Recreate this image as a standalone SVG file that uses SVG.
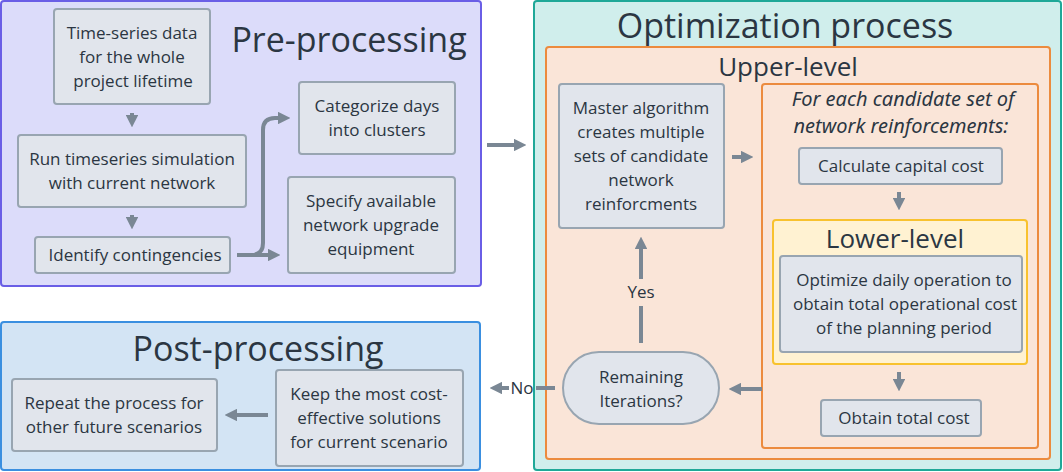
<svg xmlns="http://www.w3.org/2000/svg" width="1063" height="472" viewBox="0 0 1063 472">
<defs>
<marker id="ah" viewBox="0 0 10 10" refX="5" refY="5" markerWidth="3.2" markerHeight="3.2" orient="auto-start-reverse" markerUnits="strokeWidth">
<path d="M0,0 L10,5 L0,10 z" fill="#7a8794"/>
</marker>
<style>
text{font-family:"Open Sans","Noto Sans",sans-serif;fill:#2b3642;text-anchor:middle}
.t{font-size:17px}
.it{font-family:"Noto Sans","Open Sans",sans-serif;font-style:italic;font-size:20px}
.big{font-size:34px}
.mid{font-size:26px}
.n{fill:#e1e5ec;stroke:#98a5b1;stroke-width:2}
.c{fill:none;stroke:#7a8794;stroke-width:4;marker-end:url(#ah)}
.l{fill:none;stroke:#7a8794;stroke-width:4}
</style>
</defs>
<rect width="1063" height="472" fill="#ffffff"/>
<g id="pre">
<rect x="1" y="1" width="480" height="285" rx="3" fill="#dcdcfa" stroke="#6a5ee6" stroke-width="2"/>
<text class="big" x="349" y="52">Pre-processing</text>
</g>
<g id="opt">
<rect x="534" y="1" width="527" height="469" rx="3" fill="#d0eeec" stroke="#1fa898" stroke-width="2"/>
<text class="big" x="785" y="38">Optimization process</text>
</g>
<g id="upper">
<rect x="546" y="47" width="504" height="412" rx="3" fill="#fae5d8" stroke="#ec8b3e" stroke-width="2"/>
<text class="mid" x="788" y="76">Upper-level</text>
</g>
<g id="post">
<rect x="1" y="322" width="479" height="148" rx="3" fill="#d3e4f4" stroke="#3a8fe0" stroke-width="2"/>
<text class="big" x="258" y="361">Post-processing</text>
</g>
<g id="n1"><rect class="n" x="54" y="9" width="156" height="95" rx="3"/>
<text class="t"><tspan x="132" y="39">Time-series data</tspan><tspan x="132" y="63">for the whole</tspan><tspan x="133" y="87">project lifetime</tspan></text></g>
<g id="n2"><rect class="n" x="18" y="135" width="228" height="72" rx="3"/>
<text class="t"><tspan x="132" y="165">Run timeseries simulation</tspan><tspan x="132" y="189">with current network</tspan></text></g>
<g id="n3"><rect class="n" x="35" y="237" width="195" height="36" rx="3"/>
<text class="t" x="135" y="261">Identify contingencies</text></g>
<g id="n4"><rect class="n" x="299" y="82" width="156" height="72" rx="3"/>
<text class="t"><tspan x="377" y="112">Categorize days</tspan><tspan x="377" y="136">into clusters</tspan></text></g>
<g id="n5"><rect class="n" x="288" y="177" width="167" height="96" rx="3"/>
<text class="t"><tspan x="371" y="207">Specify available</tspan><tspan x="371" y="231">network upgrade</tspan><tspan x="371" y="255">equipment</tspan></text></g>
<g id="n6"><rect class="n" x="559" y="84" width="165" height="144" rx="3"/>
<text class="t"><tspan x="641" y="114">Master algorithm</tspan><tspan x="641" y="138">creates multiple</tspan><tspan x="641" y="162">sets of candidate</tspan><tspan x="641" y="186">network</tspan><tspan x="641" y="210">reinforcments</tspan></text></g>
<g id="inner">
<rect x="762" y="84" width="276" height="364" rx="3" fill="#fae5d8" stroke="#ec8b3e" stroke-width="2"/>
<text class="it"><tspan x="903" y="106">For each candidate set of</tspan><tspan x="901" y="133">network reinforcements:</tspan></text>
</g>
<g id="n7"><rect class="n" x="799" y="148" width="203" height="36" rx="3"/>
<text class="t" x="901" y="172">Calculate capital cost</text></g>
<g id="lower">
<rect x="773" y="220" width="254" height="144" rx="3" fill="#fff2d2" stroke="#f8c22e" stroke-width="2"/>
<text class="mid" x="895" y="248">Lower-level</text>
</g>
<g id="n8"><rect class="n" x="780" y="256" width="242" height="96" rx="3"/>
<text class="t"><tspan x="904" y="286">Optimize daily operation to</tspan><tspan x="905" y="310">obtain total operational cost</tspan><tspan x="904" y="334">of the planning period</tspan></text></g>
<g id="n9"><rect class="n" x="821" y="400" width="160" height="36" rx="3"/>
<text class="t" x="904" y="424">Obtain total cost</text></g>
<g id="n10"><rect class="n" x="563" y="352" width="156" height="72" rx="36"/>
<text class="t"><tspan x="641" y="383">Remaining</tspan><tspan x="641" y="407">Iterations?</tspan></text></g>
<g id="n11"><rect class="n" x="276" y="370" width="187" height="96" rx="3"/>
<text class="t"><tspan x="369" y="400">Keep the most cost-</tspan><tspan x="369" y="424">effective solutions</tspan><tspan x="369" y="448">for current scenario</tspan></text></g>
<g id="n12"><rect class="n" x="12" y="379" width="205" height="72" rx="3"/>
<text class="t"><tspan x="114" y="409">Repeat the process for</tspan><tspan x="114" y="433">other future scenarios</tspan></text></g>
<g id="connectors">
<path class="c" d="M132,113 V121"/>
<path class="c" d="M132,215 V223"/>
<path class="c" d="M237,255 H251 Q263,255 263,243 V130 Q263,118 275,118 H284"/>
<path class="c" d="M237,255 H274"/>
<path class="c" d="M487,145 H520"/>
<path class="c" d="M732,157 H747"/>
<path class="c" d="M899,192 V204"/>
<path class="c" d="M899,372 V385"/>
<path class="c" d="M762,389 H735"/>
<path class="l" d="M641,343 V306"/>
<path class="c" d="M641,279 V243"/>
<text class="t" x="641" y="298">Yes</text>
<path class="l" d="M555,388 H536"/>
<path class="c" d="M509,388 H496"/>
<text class="t" x="522" y="394">No</text>
<path class="c" d="M268,415 H231"/>
</g>
</svg>
